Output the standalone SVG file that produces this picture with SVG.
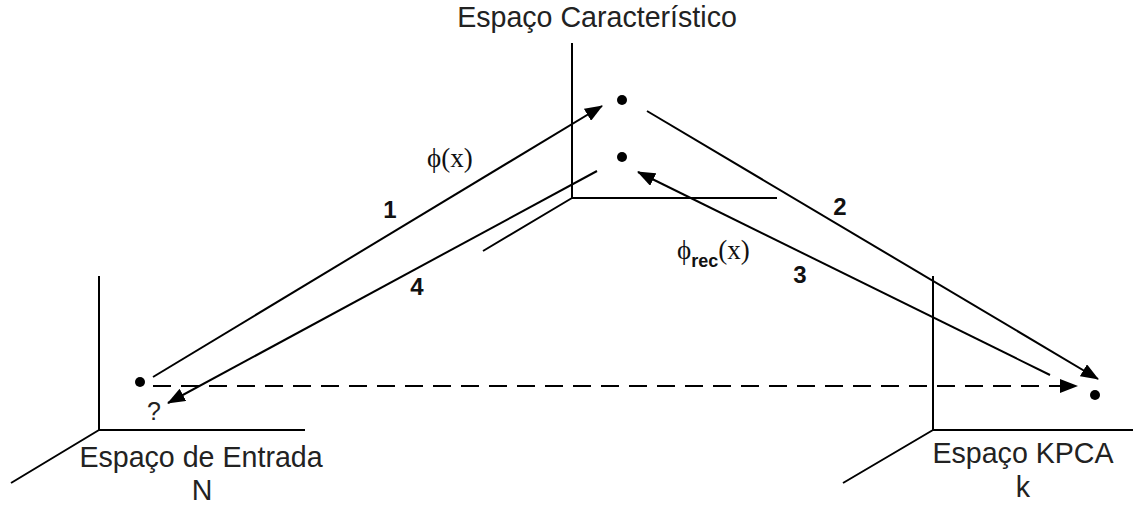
<svg xmlns="http://www.w3.org/2000/svg" width="1133" height="506" viewBox="0 0 1133 506">
<defs>
<marker id="ah" markerUnits="userSpaceOnUse" markerWidth="18" markerHeight="14" refX="17" refY="7" orient="auto">
<path d="M0,0 L18,7 L0,14 z" fill="#000"/>
</marker>
<style>
.ax{stroke:#000;stroke-width:2;fill:none}
.cn{stroke:#000;stroke-width:2;fill:none;marker-end:url(#ah)}
.lbl{font-family:"Liberation Sans",Arial,sans-serif;font-size:28.6px;fill:#222;text-anchor:middle}
.num{font-family:"Liberation Sans",Arial,sans-serif;font-size:24px;font-weight:bold;fill:#111;text-anchor:middle}
.fn{font-family:"Liberation Serif","Times New Roman",serif;font-size:27px;fill:#111}
.dot{fill:#000}
</style>
</defs>
<rect width="1133" height="506" fill="#fff"/>
<g id="feature-space">
<path class="ax" d="M572,43 V198 H777 M572,198 L483,251"/>
<circle class="dot" cx="622" cy="100" r="5"/>
<circle class="dot" cx="622" cy="157" r="5"/>
<text class="lbl" x="597" y="27">Espaço Característico</text>
</g>
<g id="input-space">
<path class="ax" d="M99,276 V430 H305 M99,430 L11,483"/>
<circle class="dot" cx="140" cy="382" r="5"/>
<text class="lbl" x="154" y="420" style="font-size:25px">?</text>
<text class="lbl" x="201" y="467">Espaço de Entrada</text>
<text class="lbl" x="202" y="500">N</text>
</g>
<g id="kpca-space">
<path class="ax" d="M933,276 V430 H1133 M933,430 L843,483"/>
<circle class="dot" cx="1095" cy="395" r="5"/>
<text class="lbl" x="1023" y="463">Espaço KPCA</text>
<text class="lbl" x="1023" y="497">k</text>
</g>
<g id="connectors">
<line class="cn" x1="153" y1="377" x2="602" y2="106"/>
<line class="cn" x1="647" y1="111" x2="1098" y2="379"/>
<line class="cn" x1="1050" y1="375" x2="638" y2="172"/>
<line class="cn" x1="597" y1="171" x2="168" y2="403"/>
<line class="cn" x1="153" y1="386" x2="1077" y2="386" stroke-dasharray="18 10"/>
<text class="fn" x="427" y="167">ϕ(x)</text>
<text class="fn" x="677" y="259">ϕ<tspan font-family="Liberation Sans, Arial, sans-serif" font-weight="bold" font-size="18" dy="8">rec</tspan><tspan dy="-8">(x)</tspan></text>
<text class="num" x="390" y="218">1</text>
<text class="num" x="840" y="215">2</text>
<text class="num" x="800" y="283">3</text>
<text class="num" x="417" y="295">4</text>
</g>
</svg>
